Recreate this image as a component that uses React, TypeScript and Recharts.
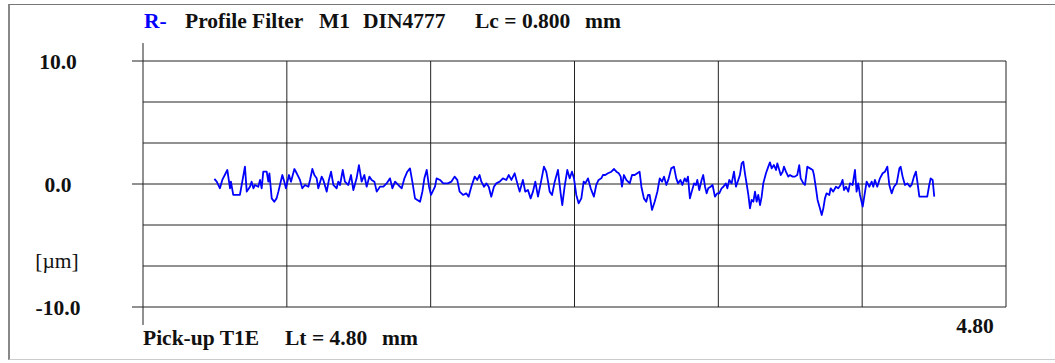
import React from 'react'
import { LineChart, Line, XAxis, YAxis, ReferenceLine } from 'recharts'

// roughness trace, position along the pick-up [mm] vs. height [µm]
const traceA: [number, number][] = [
  [0.397, 0.41], [0.41, 0.19], [0.428, -0.35], [0.441, 0.33], [0.469, 1.14], [0.484, -0.35], [0.489, 0.19],
  [0.502, -0.89], [0.539, -0.89], [0.567, 1.41], [0.577, -0.62], [0.595, -0.22], [0.604, 0.19], [0.614, -0.35],
  [0.623, -0.08], [0.641, -0.22], [0.651, 0.33], [0.66, -0.35], [0.669, 1.0], [0.688, 1.0], [0.697, 0.19],
  [0.703, 0.87], [0.716, -1.17], [0.73, -1.44], [0.743, -1.17], [0.753, -0.62], [0.775, 0.73], [0.786, 0.19],
  [0.795, -0.35], [0.812, 0.73], [0.823, 0.19], [0.842, 1.22], [0.855, 0.87], [0.873, 0.33], [0.886, -0.35],
  [0.901, -0.08], [0.92, -0.22], [0.929, 0.33], [0.942, 1.22], [0.953, 0.73], [0.966, 0.46], [0.975, -0.35],
  [0.994, 0.6], [1.003, 0.33], [1.022, -0.62], [1.034, 0.33], [1.046, 1.0], [1.059, -0.08], [1.077, -0.35],
  [1.086, 0.19], [1.096, -0.08], [1.111, 1.14], [1.123, 0.19], [1.142, -0.08], [1.157, 0.73], [1.17, -0.49],
  [1.188, 0.46], [1.201, 1.54], [1.216, 0.19], [1.231, 0.73], [1.244, -0.22], [1.259, 0.6], [1.272, 0.33],
  [1.287, 0.19], [1.3, -0.62], [1.318, -0.22], [1.337, -0.22], [1.355, 0.05], [1.374, 0.46], [1.387, -0.35],
  [1.402, 0.19], [1.42, -0.08], [1.439, -0.35], [1.454, 0.46], [1.47, 1.0], [1.485, 1.27], [1.498, 0.19],
  [1.513, -1.17], [1.541, -1.44], [1.554, -0.62], [1.565, 0.46], [1.578, 1.14], [1.591, -0.22], [1.602, -0.89],
  [1.624, -0.22], [1.633, 0.46], [1.652, 0.33], [1.67, 0.05],
]

const traceB: [number, number][] = [
  [1.696, 0.05], [1.715, 0.19], [1.733, 0.6], [1.748, 0.33], [1.761, -0.62], [1.78, -0.89], [1.798, -0.76],
  [1.811, -1.03], [1.826, -0.22], [1.845, 0.6], [1.859, 0.33], [1.872, 0.73], [1.882, 0.19], [1.897, -0.22],
  [1.91, 0.05], [1.923, -0.22], [1.937, -1.03], [1.952, -0.22], [1.965, 0.05], [1.984, 0.19], [2.002, 0.46],
  [2.021, 0.33], [2.034, 0.73], [2.049, 0.33], [2.067, 0.87], [2.082, 0.05], [2.095, -0.62], [2.113, 0.33],
  [2.126, -0.62], [2.141, -0.49], [2.156, -1.17], [2.169, -0.62], [2.182, 0.19], [2.197, -1.03], [2.212, 0.05],
  [2.23, 1.41], [2.243, 1.0], [2.253, 0.19], [2.262, -0.62], [2.275, -0.89], [2.29, 0.19], [2.308, 1.14],
  [2.323, -0.76], [2.332, -1.71], [2.345, -0.22], [2.36, 1.14], [2.373, 0.46], [2.386, 1.0], [2.397, 0.46],
  [2.41, -0.89], [2.423, -1.57], [2.438, -1.17], [2.451, 0.19], [2.46, 0.05], [2.475, 0.46], [2.49, -0.35],
  [2.497, -0.62], [2.508, -1.03], [2.521, -0.08], [2.534, 0.33], [2.549, 0.46], [2.558, 0.73], [2.571, 0.73],
  [2.586, 0.87], [2.605, 1.0], [2.62, 1.22], [2.633, 1.0], [2.646, 0.87], [2.657, 0.6], [2.664, -0.22],
  [2.675, 0.73], [2.688, 0.33], [2.707, 0.05], [2.72, 0.73], [2.735, 0.73], [2.749, 0.87], [2.762, 1.0],
  [2.772, -0.22], [2.786, -1.17], [2.799, -1.44], [2.809, -0.89], [2.818, -0.89], [2.831, -2.11], [2.846, -1.44],
  [2.861, -0.62], [2.874, 0.46], [2.887, 0.19], [2.898, 0.6], [2.911, -0.08], [2.924, 0.46], [2.938, 1.27],
  [2.953, 1.41], [2.966, 0.46], [2.976, 0.05], [2.989, 0.33], [3.0, -0.08], [3.013, 0.46], [3.022, 0.19],
  [3.031, 0.6],
]

const traceC: [number, number][] = [
  [3.042, -1.17], [3.052, -0.62], [3.065, 0.05], [3.076, -0.08], [3.083, 0.33], [3.094, -0.49], [3.107, 0.33],
  [3.116, 0.73], [3.126, -0.22], [3.135, -0.76], [3.144, -0.35], [3.157, -0.22], [3.168, -0.08], [3.181, -1.03],
  [3.194, -0.76], [3.205, -0.76], [3.218, -0.35], [3.228, -0.22], [3.242, 0.05], [3.25, -0.35], [3.261, 0.33],
  [3.274, 0.05], [3.287, 1.0], [3.298, -0.22], [3.311, 0.33], [3.32, 0.73], [3.33, 1.68], [3.339, 1.82],
  [3.348, 0.87], [3.357, 0.05], [3.367, -0.89], [3.376, -1.98], [3.385, -1.3], [3.395, -1.44], [3.404, -0.62],
  [3.413, -1.44], [3.422, -0.89], [3.432, -1.71], [3.441, -1.03], [3.45, 0.05], [3.465, 0.87], [3.478, 1.41],
  [3.487, 1.76], [3.497, 1.27], [3.509, 1.54], [3.521, 1.14], [3.528, 1.68], [3.539, 1.14], [3.547, 0.73],
  [3.558, 1.0], [3.565, 1.41], [3.576, 1.0], [3.589, 0.6], [3.598, 0.73], [3.613, 0.6], [3.626, 0.6],
  [3.639, 0.73], [3.65, 1.54], [3.658, 0.46], [3.673, 0.05], [3.682, -0.08], [3.695, 1.41], [3.71, 1.27],
  [3.725, 1.14], [3.732, 0.73], [3.743, -0.35], [3.752, -1.3], [3.765, -1.98], [3.775, -2.52], [3.784, -1.98],
  [3.793, -1.17], [3.802, -0.76], [3.817, -0.89], [3.825, -0.35], [3.839, -0.62], [3.854, -0.22], [3.867, -0.35],
  [3.88, -0.08], [3.891, 0.33], [3.899, -0.49], [3.91, -0.22], [3.923, -0.62], [3.932, 0.05], [3.947, -0.08],
  [3.96, 1.14], [3.969, -0.62], [3.978, 0.05], [3.988, -0.89], [4.003, -1.84], [4.016, -0.62], [4.025, 0.19],
  [4.04, -0.22], [4.053, 0.19], [4.062, -0.22], [4.071, 0.33], [4.084, -0.22], [4.099, 0.46], [4.114, 0.87],
  [4.127, 1.0], [4.14, 1.41], [4.151, -0.08], [4.164, -0.76], [4.177, -0.22], [4.192, 0.05], [4.207, 1.27],
  [4.214, 1.41], [4.225, 0.6], [4.238, -0.08], [4.251, 0.05], [4.266, -0.22], [4.275, -0.08], [4.288, 0.6],
  [4.299, 1.0], [4.307, 0.19], [4.318, -1.03], [4.331, -1.03], [4.349, -1.03], [4.362, -1.03], [4.373, -0.08],
  [4.381, 0.46], [4.392, 0.33], [4.401, -1.03],
]

const LT = 4.8
const gridX = [0, 0.8, 1.6, 2.4, 3.2, 4.0, 4.8]
const gridY = [10, 20 / 3, 10 / 3, 0, -10 / 3, -20 / 3, -10]
const yTicks = [10, 0, -10]
const yTickLabels: Record<string, string> = { '10': '10.0', '0': '0.0', '-10': '-10.0' }
// left axis runs a little past the plot frame
const AXIS_OVER = 1.46

const data = [...traceA, ...traceB, ...traceC].map(([mm, um]) => ({ mm, um }))

const FONT = '"Liberation Serif", "Times New Roman", serif'
const FS = 21.5
const INK = '#111'

function YTick(props: any) {
  const { x, y, payload } = props
  return (
    <g>
      <line x1={x - 11} x2={x} y1={y} y2={y} stroke="#222" strokeWidth={1} />
      <text x={x - 85} y={y + 7.5} textAnchor="middle" fontFamily={FONT} fontWeight="bold" fontSize={FS} fill={INK}>
        {yTickLabels[String(payload.value)]}
      </text>
    </g>
  )
}

export default function App() {
  return (
    <div style={{ position: 'absolute', left: 0, top: 0, width: 1055, height: 363, overflow: 'hidden', background: '#fff' }}>
      <div
        style={{
          position: 'absolute', left: 8, top: 4, width: 1047, height: 356,
          borderLeft: '2px solid #888', borderTop: '1px solid #777', borderBottom: '1px solid #ccc',
          boxSizing: 'border-box',
        }}
      />
      <LineChart
        width={1055}
        height={363}
        data={data}
        margin={{ top: 61, right: 49, bottom: 56, left: 0 }}
        style={{ position: 'absolute', left: 0, top: 0 }}
      >
        <XAxis dataKey="mm" type="number" domain={[0, LT]} hide />
        <YAxis
          type="number"
          domain={[-10, 10]}
          ticks={yTicks}
          interval={0}
          width={143}
          axisLine={false}
          tickLine={false}
          tickSize={0}
          tickMargin={0}
          tick={<YTick />}
        />
        {gridY.map((v) => (
          <ReferenceLine key={'h' + v} y={v} stroke="#222" strokeWidth={1} />
        ))}
        {gridX.slice(1).map((v) => (
          <ReferenceLine key={'v' + v} x={v} stroke="#222" strokeWidth={1} />
        ))}
        <ReferenceLine
          segment={[{ x: 0, y: 10 + AXIS_OVER }, { x: 0, y: -10 - AXIS_OVER }]}
          ifOverflow="visible"
          stroke="#222"
          strokeWidth={1}
        />
        <Line
          type="linear"
          dataKey="um"
          stroke="#0000ff"
          strokeWidth={1.8}
          strokeLinejoin="round"
          dot={false}
          isAnimationActive={false}
        />
      </LineChart>
      <svg width={1055} height={363} style={{ position: 'absolute', left: 0, top: 0, pointerEvents: 'none' }}>
        <g fontFamily={FONT} fontWeight="bold" fontSize={FS} fill={INK}>
          <text y={28}>
            <tspan x={144} fill="#0000ff">R-</tspan>
            <tspan x={185}>Profile Filter</tspan>
            <tspan x={319}>M1</tspan>
            <tspan x={363}>DIN4777</tspan>
            <tspan x={475}>Lc = 0.800</tspan>
            <tspan x={585}>mm</tspan>
          </text>
          <text x={57} y={268} textAnchor="middle" fontWeight="normal">[µm]</text>
          <text y={345}>
            <tspan x={143}>Pick-up T1E</tspan>
            <tspan x={285}>Lt = 4.80</tspan>
            <tspan x={382}>mm</tspan>
          </text>
          <text x={975} y={333} textAnchor="middle">4.80</text>
        </g>
      </svg>
    </div>
  )
}
